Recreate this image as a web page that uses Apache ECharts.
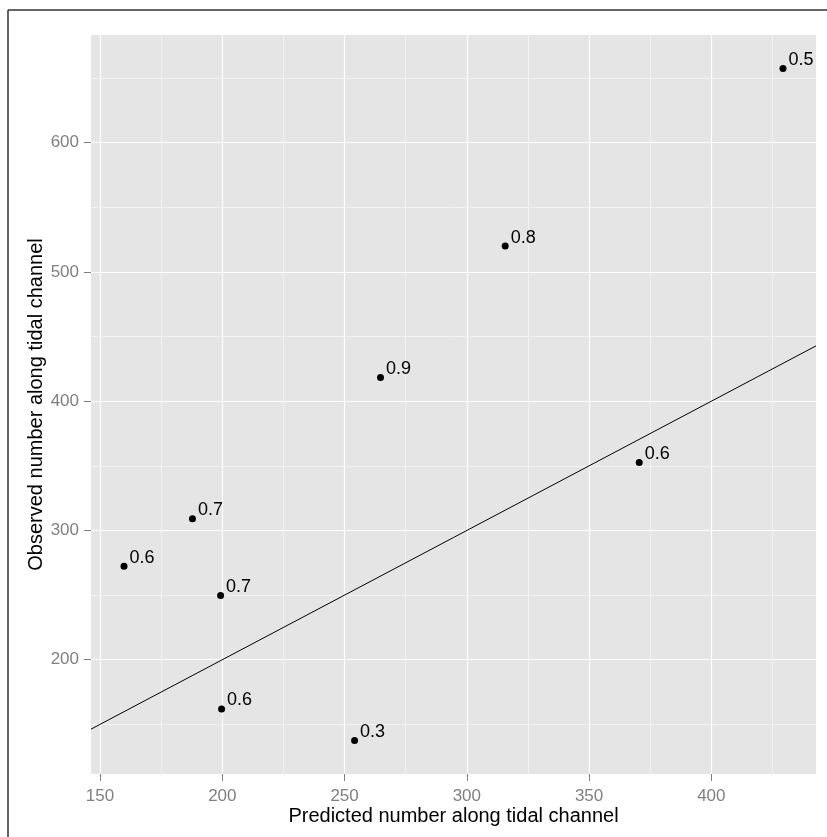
<!DOCTYPE html>
<html>
<head>
<meta charset="utf-8">
<script src="https://cdn.jsdelivr.net/npm/echarts@6/dist/echarts.min.js"></script>
<style>
  html, body { margin: 0; padding: 0; background: #fff; }
  #chart { width: 827px; height: 837px; }
</style>
</head>
<body>
<div id="chart"></div>
<script>
const predicted = [429.3, 315.7, 264.7, 370.5, 187.8, 159.8, 199.3, 199.7, 254.1]
const observed = [657.3, 520.0, 418.3, 352.6, 309.0, 272.3, 249.6, 161.9, 137.6]
const pointLabels = ['0.5', '0.8', '0.9', '0.6', '0.7', '0.6', '0.7', '0.6', '0.3']

// axis limits and ticks
const xRange = [146.3, 442.8]
const yRange = [111.6, 683.3]
const xTicks = [150, 200, 250, 300, 350, 400]
const xMinor = [175, 225, 275, 325, 375, 425]
const yTicks = [200, 300, 400, 500, 600]
const yMinor = [150, 250, 350, 450, 550, 650]

// 1:1 reference line
const refLine = [146.3, 442.8]

const chart = echarts.init(document.getElementById('chart'), null, { renderer: 'canvas' })

const axisGrey = '#7f7f7f'
const gridLine = (key, v, major) => ({
  [key]: v,
  lineStyle: { color: major ? '#ffffff' : '#f2f2f2', width: major ? 1.2 : 1, type: 'solid' }
})

const gridMarks = [
  ...xMinor.map(v => gridLine('xAxis', v, false)),
  ...yMinor.map(v => gridLine('yAxis', v, false)),
  ...xTicks.map(v => gridLine('xAxis', v, true)),
  ...yTicks.map(v => gridLine('yAxis', v, true))
]

chart.setOption({
  animation: false,
  textStyle: { fontFamily: 'Liberation Sans, Arial, sans-serif' },
  grid: {
    left: 91, right: 11, top: 35, bottom: 63,
    show: true, backgroundColor: '#e5e5e5', borderWidth: 0
  },
  xAxis: {
    type: 'value',
    min: xRange[0],
    max: xRange[1],
    name: 'Predicted number along tidal channel',
    nameLocation: 'middle',
    nameGap: 32,
    nameMoveOverlap: false,
    nameTextStyle: { color: '#000', fontSize: 20 },
    axisLine: { show: false },
    axisTick: { show: true, customValues: xTicks, length: 7, lineStyle: { color: axisGrey } },
    axisLabel: { customValues: xTicks, color: axisGrey, fontSize: 17, margin: 14 },
    splitLine: { show: false }
  },
  yAxis: {
    type: 'value',
    min: yRange[0],
    max: yRange[1],
    name: 'Observed number along tidal channel',
    nameLocation: 'middle',
    nameGap: 45,
    nameMoveOverlap: false,
    nameTextStyle: { color: '#000', fontSize: 20 },
    axisLine: { show: false },
    axisTick: { show: true, customValues: yTicks, length: 7, lineStyle: { color: axisGrey } },
    axisLabel: { customValues: yTicks, color: axisGrey, fontSize: 17, margin: 12 },
    splitLine: { show: false }
  },
  graphic: [
    { type: 'line', shape: { x1: 8, y1: 10, x2: 8, y2: 837 }, style: { stroke: '#333', lineWidth: 1.5 } },
    { type: 'line', shape: { x1: 8, y1: 10, x2: 827, y2: 10 }, style: { stroke: '#333', lineWidth: 1.5 } }
  ],
  series: [
    {
      // panel grid lines
      type: 'scatter',
      z: 1,
      data: [],
      silent: true,
      markLine: { z: 1, silent: true, symbol: 'none', label: { show: false }, data: gridMarks }
    },
    {
      type: 'line',
      z: 5,
      data: refLine.map(v => [v, v]),
      showSymbol: false,
      symbol: 'none',
      lineStyle: { color: '#000', width: 1 },
      silent: true
    },
    {
      type: 'scatter',
      z: 10,
      symbolSize: 7,
      itemStyle: { color: '#000', opacity: 1 },
      data: predicted.map((x, i) => [x, observed[i], pointLabels[i]]),
      label: {
        show: true,
        formatter: (p) => p.value[2],
        position: [9, -5],
        align: 'left',
        verticalAlign: 'middle',
        color: '#000',
        fontSize: 18
      }
    }
  ]
})
</script>
</body>
</html>
